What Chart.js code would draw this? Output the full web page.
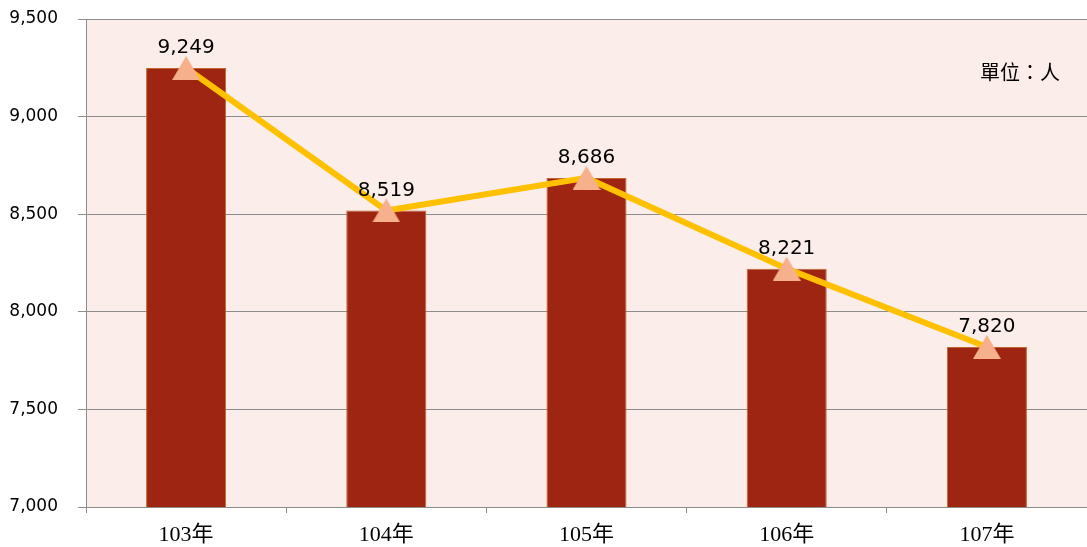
<!DOCTYPE html>
<html>
<head>
<meta charset="utf-8">
<script src="https://cdn.jsdelivr.net/npm/chart.js@4"></script>
<style>
  html, body { margin: 0; padding: 0; background: #ffffff; overflow: hidden; }
  canvas { display: block; }
</style>
</head>
<body>
<canvas id="chart" width="1087" height="547"></canvas>
<script>
// data
const categories = ['103年', '104年', '105年', '106年', '107年'];
const persons = [9249, 8519, 8686, 8221, 7820];
const yMin = 7000;
const yMax = 9500;
const yStep = 500;
const unitLabel = '單位：人';

// triangle marker, centred on its bounding box like the original
function makeTriangle(w, h, color) {
  const c = document.createElement('canvas');
  c.width = w;
  c.height = h;
  const g = c.getContext('2d');
  g.fillStyle = color;
  g.beginPath();
  g.moveTo(w / 2, 0);
  g.lineTo(w, h);
  g.lineTo(0, h);
  g.closePath();
  g.fill();
  return c;
}
const triangle = makeTriangle(28, 24, '#F6B08C');

const plotBackground = {
  id: 'plotBackground',
  beforeDraw(chart) {
    const { ctx, chartArea: a } = chart;
    ctx.save();
    ctx.fillStyle = '#FBEDE9';
    ctx.fillRect(a.left, a.top, a.right - a.left, a.bottom - a.top);
    ctx.restore();
  }
};

const valueLabels = {
  id: 'valueLabels',
  afterDraw(chart) {
    const { ctx, chartArea: a } = chart;
    const meta = chart.getDatasetMeta(0);
    ctx.save();
    ctx.fillStyle = '#000000';
    ctx.font = '20px "DejaVu Sans", Verdana, sans-serif';
    ctx.textAlign = 'center';
    ctx.textBaseline = 'middle';
    meta.data.forEach((pt, i) => {
      ctx.fillText(persons[i].toLocaleString('en-US'), pt.x, pt.y - 20);
    });
    ctx.font = '20px "Noto Sans CJK TC", serif';
    ctx.textAlign = 'right';
    ctx.fillText(unitLabel, a.right - 27, 72);
    ctx.restore();
  }
};

new Chart(document.getElementById('chart'), {
  type: 'bar',
  data: {
    labels: categories,
    datasets: [
      {
        type: 'line',
        label: 'line',
        data: persons,
        order: 0,
        borderColor: '#FFC000',
        borderWidth: 6,
        tension: 0,
        fill: false,
        pointStyle: triangle,
        pointRadius: 12,
        pointHoverRadius: 12
      },
      {
        type: 'bar',
        label: 'bar',
        data: persons,
        order: 1,
        backgroundColor: '#9E2511',
        borderColor: '#C0652E',
        borderWidth: 1,
        categoryPercentage: 1,
        barPercentage: 0.4
      }
    ]
  },
  options: {
    responsive: false,
    animation: false,
    events: [],
    layout: { autoPadding: false, padding: { top: 19, right: 0, left: 0, bottom: 0 } },
    plugins: {
      legend: { display: false },
      tooltip: { enabled: false }
    },
    scales: {
      x: {
        offset: true,
        afterFit(scale) { scale.height = 40; },
        grid: {
          offset: true,
          drawOnChartArea: false,
          drawTicks: true,
          tickLength: 6,
          color: '#8C8C8C'
        },
        border: { display: true, color: '#8C8C8C' },
        ticks: {
          color: '#000000',
          padding: 9,
          font: { family: '"Liberation Serif", "Noto Sans CJK TC", serif', size: 22 }
        }
      },
      y: {
        min: yMin,
        max: yMax,
        afterFit(scale) {
          scale.width = 86;
          // tick padding is meant horizontally only
          scale.paddingTop = 0;
          scale.paddingBottom = 0;
        },
        grid: {
          color: '#8C8C8C',
          lineWidth: 1,
          tickLength: 8
        },
        border: { display: true, color: '#8C8C8C' },
        ticks: {
          stepSize: yStep,
          color: '#000000',
          padding: 20,
          font: { family: '"DejaVu Sans", Verdana, sans-serif', size: 17 },
          callback: v => v.toLocaleString('en-US')
        }
      }
    }
  },
  plugins: [plotBackground, valueLabels]
});
</script>
</body>
</html>
